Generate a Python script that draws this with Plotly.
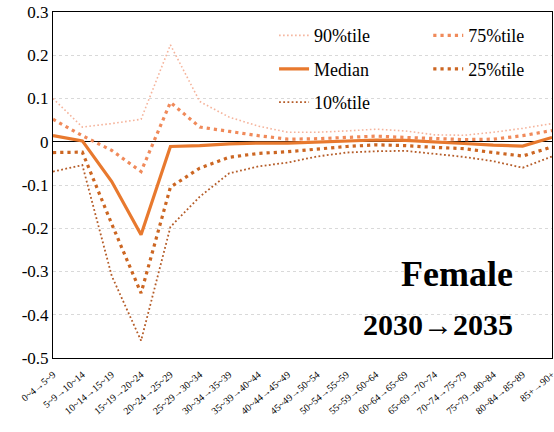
import plotly.graph_objects as go

categories = ["0~4→5~9", "5~9→10~14", "10~14→15~19", "15~19→20~24", "20~24→25~29",
              "25~29→30~34", "30~34→35~39", "35~39→40~44", "40~44→45~49", "45~49→50~54",
              "50~54→55~59", "55~59→60~64", "60~64→65~69", "65~69→70~74", "70~74→75~79",
              "75~79→80~84", "80~84→85~89", "85+→90+"]

p90 = [0.100, 0.034, 0.042, 0.052, 0.224, 0.093, 0.057, 0.036, 0.022, 0.022,
       0.025, 0.029, 0.025, 0.016, 0.015, 0.022, 0.031, 0.042]
p75 = [0.052, 0.014, -0.020, -0.069, 0.091, 0.034, 0.024, 0.014, 0.006, 0.007,
       0.010, 0.013, 0.010, 0.007, 0.005, 0.006, 0.014, 0.026]
median = [0.014, 0.002, -0.092, -0.215, -0.011, -0.009, -0.005, -0.003, -0.003, -0.001,
          0.002, 0.004, 0.003, 0.000, -0.004, -0.008, -0.010, 0.010]
p25 = [-0.025, -0.024, -0.190, -0.350, -0.105, -0.061, -0.036, -0.027, -0.023, -0.017,
       -0.011, -0.007, -0.009, -0.013, -0.016, -0.025, -0.033, -0.012]
p10 = [-0.069, -0.054, -0.310, -0.460, -0.197, -0.127, -0.073, -0.057, -0.048, -0.034,
       -0.025, -0.022, -0.021, -0.028, -0.035, -0.045, -0.060, -0.034]

ytick_vals = [0.3, 0.2, 0.1, 0, -0.1, -0.2, -0.3, -0.4, -0.5]
ytick_text = ["0.3", "0.2", "0.1", "0", "-0.1", "-0.2", "-0.3", "-0.4", "-0.5"]

SERIF = "Liberation Serif"

series = [
    ("90%tile", p90, "#F5B49C", 1.6, "1.6px,2.4px", "legend", "g1"),
    ("75%tile", p75, "#F08A5A", 3.2, "3.2px,4px", "legend2", "g2"),
    ("Median", median, "#E8792E", 3.2, "solid", "legend", "g3"),
    ("25%tile", p25, "#CC6622", 3.2, "3.2px,4px", "legend2", "g4"),
    ("10%tile", p10, "#B55C28", 1.8, "1.8px,2.4px", "legend", "g5"),
]

fig = go.Figure()
for name, vals, color, w, dash, leg, grp in series:
    fig.add_trace(go.Scatter(
        x=categories, y=vals, mode="lines", name=name,
        line=dict(color=color, width=w, dash=dash),
        legend=leg, legendgroup=grp,
    ))

fig.update_layout(
    template="none",
    width=554, height=432,
    margin=dict(l=53, r=2, t=12, b=74, autoexpand=False),
    paper_bgcolor="white", plot_bgcolor="white",
    font=dict(family=SERIF, color="black"),
    legend=dict(x=0.443, y=0.985, xanchor="left", yanchor="top",
                bgcolor="rgba(0,0,0,0)", font=dict(size=18, family=SERIF),
                tracegroupgap=7),
    legend2=dict(x=0.752, y=0.985, xanchor="left", yanchor="top",
                 bgcolor="rgba(0,0,0,0)", font=dict(size=18, family=SERIF),
                 tracegroupgap=7),
    xaxis=dict(type="category", showline=True, mirror=True, linecolor="black",
               linewidth=1, showgrid=False, ticks="", tickangle=-40, automargin=False,
               ticklabelstandoff=6,
               tickfont=dict(size=10, family=SERIF)),
    yaxis=dict(range=[-0.5, 0.3], tickvals=ytick_vals, ticktext=ytick_text,
               showline=True, mirror=True, linecolor="black", linewidth=1,
               showgrid=True, gridcolor="#D9D9D9", griddash="dot", gridwidth=1,
               zeroline=True, zerolinecolor="black", zerolinewidth=1, automargin=False,
               tickfont=dict(size=17, family=SERIF), ticks=""),
    annotations=[
        dict(text="<b>Female</b>", x=0.81, y=0.243, xref="paper", yref="paper",
             xanchor="center", yanchor="middle",
             showarrow=False, font=dict(size=36, family=SERIF, color="black")),
        dict(text="<b>2030→2035</b>", x=0.772, y=0.098, xref="paper", yref="paper",
             xanchor="center", yanchor="middle",
             showarrow=False, font=dict(size=30, family=SERIF, color="black")),
    ],
)

fig.write_html("out.html", config={"displayModeBar": False},
               post_script="document.body.style.margin='0px';")
